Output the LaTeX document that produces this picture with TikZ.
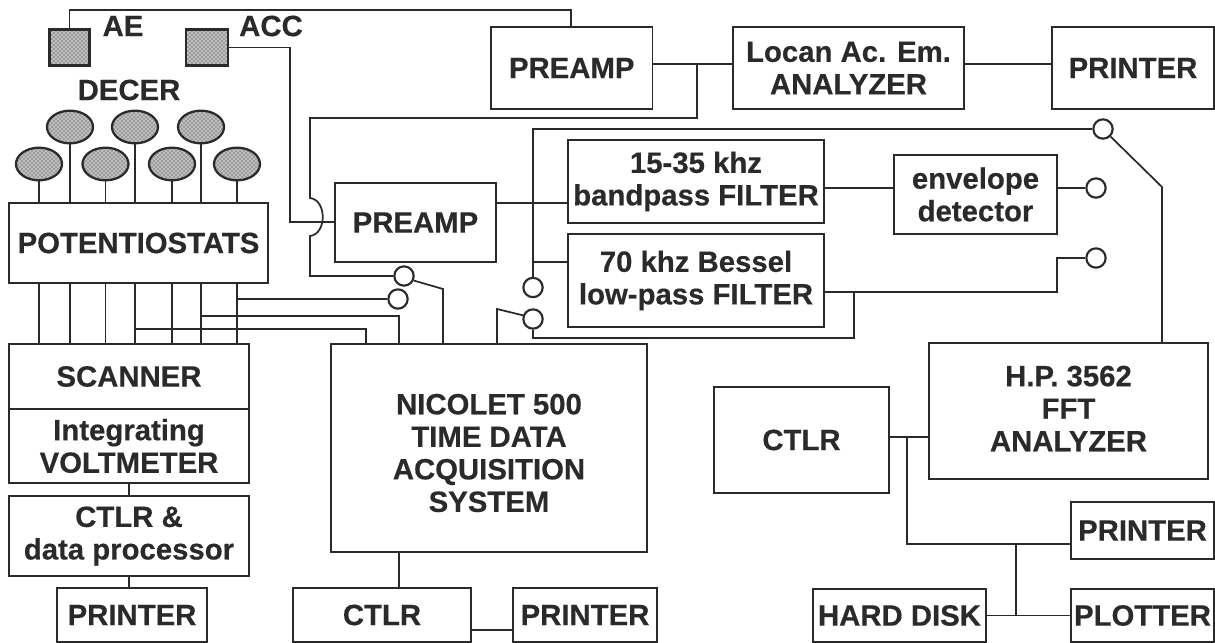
\documentclass[tikz,border=0pt]{standalone}
\usepackage{fontspec}
\setmainfont{Liberation Sans}[BoldFeatures={FakeBold=0.4}]
\usetikzlibrary{shapes.geometric,patterns}
\definecolor{inkcol}{HTML}{2A2A2A}
\tikzset{
	wire/.style={draw=inkcol, line width=1.3pt},
	block/.style n args={2}{wire, rectangle, inner sep=0pt, align=center, text=inkcol,
		minimum width=#1*0.75pt, minimum height=#2*0.75pt},
	tag/.style={text=inkcol, inner sep=0pt, align=center},
	contact/.style={wire, line width=1.6pt, circle, inner sep=0pt, minimum size=14.5pt},
	dotted cell/.style={wire, line width=1.7pt, preaction={fill=gray!50}, pattern=crosshatch dots, pattern color=inkcol},
	probe/.style={dotted cell, ellipse, inner sep=0pt, minimum width=34.5pt, minimum height=24.5pt}
}

\begin{document}
\begin{tikzpicture}[x=0.75pt, y=-0.75pt, every node/.append style={font=\fontsize{22}{24.4}\selectfont\bfseries}]
	\useasboundingbox (0,0) rectangle (1215,643);

	% sensors
	\node[dotted cell, rectangle, inner sep=0pt, minimum width=30pt, minimum height=27pt] (aeBox) at (69.5,47.5) {};
	\node[dotted cell, rectangle, inner sep=0pt, minimum width=31pt, minimum height=27pt] (accBox) at (207,47.5) {};
	\node[tag] (aeTag) at (123,26) {AE};
	\node[tag] (accTag) at (271,26) {ACC};
	\node[tag] (decerTag) at (129,90) {DECER};
	\foreach \i/\x/\y in {1/39/164, 2/70/127, 3/105.5/164, 4/135/127, 5/172/164, 6/201/127, 7/237/164}
		\node[probe] (ell\i) at (\x,\y) {};

	% left column
	\node[block={259}{80}] (potent) at (138.5,243) {POTENTIOSTATS};
	\node[block={239.5}{65}] (scanner) at (129,376.5) {SCANNER};
	\node[block={239.5}{74}] (integ) at (129,446) {Integrating\\VOLTMETER};
	\node[block={239.5}{80}] (dataproc) at (129,536) {CTLR \&\\data processor};
	\node[block={150}{54}] (printerA) at (132,615) {PRINTER};

	% middle
	\node[block={161}{79}] (preampMid) at (415.5,222.5) {PREAMP};
	\node[block={316}{208}] (nicolet) at (489,448) {};
	\node[tag] (nicoletText) at (489,453) {NICOLET 500\\TIME DATA\\ACQUISITION\\SYSTEM};
	\node[block={178}{54}] (ctlrB) at (382,615) {CTLR};
	\node[block={144.5}{54}] (printerB) at (585,615) {PRINTER};

	% top row and filters
	\node[block={161.5}{82}] (preampTop) at (571.75,68) {PREAMP};
	\node[block={231}{82}] (locan) at (848.5,68) {Locan Ac. Em.\\ANALYZER};
	\node[block={162.5}{82}] (printerTop) at (1133,68) {PRINTER};
	\node[block={256}{83}] (band) at (696,181.5) {15-35 khz\\bandpass FILTER};
	\node[block={256}{93}] (low) at (696,280.5) {70 khz Bessel\\low-pass FILTER};
	\node[block={163}{79}] (env) at (975.5,194.5) {envelope\\detector};

	% right side
	\node[block={279}{136}] (fft) at (1068.5,411) {};
	\node[tag] (fftText) at (1068.5,408.5) {H.P. 3562\\FFT\\ANALYZER};
	\node[block={175}{106}] (ctlrC) at (801.5,440) {CTLR};
	\node[block={143}{57}] (printerC) at (1142.5,530.5) {PRINTER};
	\node[block={173}{53}] (hardDisk) at (899.5,615.5) {HARD DISK};
	\node[block={143}{53}] (plotter) at (1142.5,615.5) {PLOTTER};

	% switch contacts
	\node[contact] (swA) at (404,276) {};
	\node[contact] (swB) at (398,299) {};
	\node[contact] (swC) at (533,287.5) {};
	\node[contact] (swD) at (533,319) {};
	\node[contact] (swE) at (1103,129) {};
	\node[contact] (swF) at (1096,188) {};
	\node[contact] (swG) at (1096,258) {};

	\coordinate (aeTurn) at (571,10);
	\coordinate (accTurn) at (290,222);
	\coordinate (jumpLow) at (310,236);
	\coordinate (jumpUp) at (310,198);
	\coordinate (tapTop) at (697,64);
	\coordinate (retTurn) at (697,118);
	\coordinate (tapBand) at (533,203);
	\coordinate (tapLow) at (533,262);
	\coordinate (lowOut) at (854,292);
	\coordinate (lowTurn) at (1057,292);
	\coordinate (lowRet) at (854,338);
	\coordinate (armA) at (443,289);
	\coordinate (armD) at (497,309);
	\coordinate (armE) at (1162,187);
	\coordinate (busC) at (399,316);
	\coordinate (busD) at (366,329);
	\coordinate (linkB) at (490,630);
	\coordinate (tapFft) at (907,437);
	\coordinate (busFft) at (1016,544);

	\foreach \i in {1,...,7} {
		\draw[wire] (ell\i) -- (ell\i |- potent.north);
		\draw[wire] (ell\i |- potent.south) -- (ell\i |- scanner.north);
	}

	\draw[wire] (aeBox.north) |- (aeTurn) -- (aeTurn |- preampTop.north);
	\draw[wire] (accBox.east) -| (accTurn) -- (accTurn -| preampMid.west);
	\draw[wire] (swA.west) -| (jumpLow) .. controls (327,234) and (327,200) .. (jumpUp) |- (retTurn) -- (tapTop);
	\draw[wire] (tapTop -| preampTop.east) -- (tapTop -| locan.west);
	\draw[wire] (tapTop -| locan.east) -- (tapTop -| printerTop.west);
	\draw[wire] (tapBand -| preampMid.east) -- (tapBand -| band.west);
	\draw[wire] (swE.west) -| (swC.north);
	\draw[wire] (tapLow) -- (tapLow -| low.west);
	\draw[wire] (swF -| band.east) -- (swF -| env.west);
	\draw[wire] (swF -| env.east) -- (swF.west);
	\draw[wire] (lowOut -| low.east) -- (lowTurn) |- (swG.west);
	\draw[wire] (swD.south) |- (lowRet) -- (lowOut);
	\draw[wire] (swE.-45) -- (armE) -- (armE |- fft.north);
	\draw[wire] (swD.160) -- (armD) -- (armD |- nicolet.north);
	\draw[wire] (swA.-25) -- (armA) -- (armA |- nicolet.north);
	\draw[wire] (ell7 |- swB) -- (swB.west);
	\draw[wire] (ell6 |- busC) -- (busC) -- (busC |- nicolet.north);
	\draw[wire] (ell4 |- busD) -- (busD) -- (busD |- nicolet.north);

	\draw[wire] (integ.south) -- (dataproc.north);
	\draw[wire] (dataproc.south) -- (dataproc.south |- printerA.north);
	\draw[wire] (busC |- nicolet.south) -- (busC |- ctlrB.north);
	\draw[wire] (linkB -| ctlrB.east) -- (linkB -| printerB.west);

	\draw[wire] (tapFft -| ctlrC.east) -- (tapFft -| fft.west);
	\draw[wire] (tapFft) |- (busFft) -- (busFft -| printerC.west);
	\draw[wire] (busFft) -- (busFft |- hardDisk.east);
	\draw[wire] (hardDisk.east) -- (plotter.west);
\end{tikzpicture}
\end{document}
